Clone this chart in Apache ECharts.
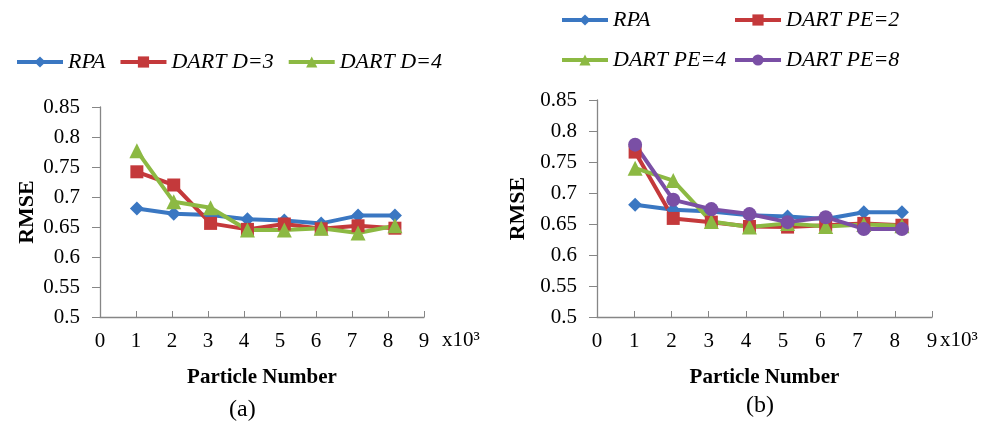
<!DOCTYPE html>
<html>
<head>
<meta charset="utf-8">
<title>RMSE - Particle Number</title>
<script src="https://cdn.jsdelivr.net/npm/echarts@6/dist/echarts.min.js"></script>
<style>
  html, body { margin: 0; background: #fff; }
  #chart { width: 999px; height: 429px; }
</style>
</head>
<body>
<div id="chart"></div>
<script>
// particle number in thousands (1024, 2048, ... 8192)
var particleK = [1.024, 2.048, 3.072, 4.096, 5.12, 6.144, 7.168, 8.192];

// (a) depth
var rpaA  = [0.681, 0.672, 0.670, 0.663, 0.661, 0.656, 0.669, 0.669];
var dartD3 = [0.742, 0.720, 0.656, 0.646, 0.655, 0.647, 0.652, 0.648];
var dartD4 = [0.777, 0.692, 0.682, 0.645, 0.645, 0.648, 0.640, 0.652];

// (b) processing elements
var rpaB   = [0.681, 0.673, 0.670, 0.664, 0.662, 0.658, 0.669, 0.669];
var dartPE2 = [0.766, 0.659, 0.653, 0.646, 0.645, 0.648, 0.651, 0.648];
var dartPE4 = [0.740, 0.720, 0.654, 0.645, 0.651, 0.646, 0.649, 0.647];
var dartPE8 = [0.778, 0.689, 0.674, 0.666, 0.653, 0.661, 0.642, 0.642];

var xTickMin = 0, xTickMax = 9;
var yTickMin = 0.5, yTickMax = 0.85, yTickStep = 0.05;

var BLUE = '#3a77c2', RED = '#c4393b', GREEN = '#8cb943', PURPLE = '#7a4fa5';
var SERIF = '"Liberation Serif", "Times New Roman", serif';

function pairs(ys) {
  return ys.map(function (v, i) { return [particleK[i], v]; });
}

function line(name, ys, color, symbol, size, idx) {
  return {
    name: name, type: 'line', xAxisIndex: idx, yAxisIndex: idx,
    data: pairs(ys), symbol: symbol, symbolSize: size,
    lineStyle: { color: color, width: 4 },
    itemStyle: { color: color },
    animation: false
  };
}

function xAx(idx) {
  return {
    type: 'value', gridIndex: idx, min: xTickMin, max: xTickMax, interval: 1,
    axisLine: { lineStyle: { color: '#868686', width: 1.3 } },
    axisTick: { inside: true, length: 6, lineStyle: { color: '#868686' } },
    splitLine: { show: false },
    axisLabel: { fontFamily: SERIF, fontSize: 21, color: '#000', margin: 14 },
    name: 'Particle Number', nameLocation: 'middle', nameGap: 50,
    nameTextStyle: { fontFamily: SERIF, fontSize: 21, fontWeight: 'bold', color: '#000' }
  };
}

function yAx(idx, gap) {
  return {
    type: 'value', gridIndex: idx, min: yTickMin, max: yTickMax, interval: yTickStep,
    axisLine: { show: true, lineStyle: { color: '#868686', width: 1.3 } },
    axisTick: { show: true, length: 8, lineStyle: { color: '#868686' } },
    splitLine: { show: false },
    axisLabel: { fontFamily: SERIF, fontSize: 21, color: '#000', margin: 20 },
    name: 'RMSE', nameLocation: 'middle', nameGap: gap, nameRotate: 90,
    nameTextStyle: { fontFamily: SERIF, fontSize: 22, fontWeight: 'bold', color: '#000' }
  };
}

function leg(left, top, names) {
  return {
    left: left, top: top, padding: 0, itemWidth: 46, itemHeight: 14, itemGap: 13,
    data: names, selectedMode: false,
    lineStyle: { width: 4 },
    textStyle: { fontFamily: SERIF, fontStyle: 'italic', fontSize: 22, color: '#000' }
  };
}

var chart = echarts.init(document.getElementById('chart'));
chart.setOption({
  backgroundColor: '#fff',
  animation: false,
  grid: [
    { left: 100, top: 107, width: 324, height: 210 },
    { left: 597, top: 100, width: 335, height: 217 }
  ],
  xAxis: [xAx(0), xAx(1)],
  yAxis: [yAx(0, 62), yAx(1, 68)],
  legend: [
    leg(15, 51, ['RPA', 'DART D=3', 'DART D=4']),
    leg(560, 9, ['RPA']),
    leg(733, 9, ['DART PE=2']),
    leg(560, 49, ['DART PE=4']),
    leg(733, 49, ['DART PE=8'])
  ],
  series: [
    line('RPA', rpaA, BLUE, 'diamond', 14, 0),
    line('DART D=3', dartD3, RED, 'rect', 13, 0),
    line('DART D=4', dartD4, GREEN, 'triangle', 15, 0),
    line('RPA', rpaB, BLUE, 'diamond', 14, 1),
    line('DART PE=2', dartPE2, RED, 'rect', 13, 1),
    line('DART PE=4', dartPE4, GREEN, 'triangle', 15, 1),
    line('DART PE=8', dartPE8, PURPLE, 'circle', 14, 1)
  ],
  graphic: [
    { type: 'text', left: 442, top: 330, style: { text: 'x10³', fontFamily: SERIF, fontSize: 21, fill: '#000' } },
    { type: 'text', left: 940, top: 330, style: { text: 'x10³', fontFamily: SERIF, fontSize: 21, fill: '#000' } },
    { type: 'text', left: 229, top: 398, style: { text: '(a)', fontFamily: SERIF, fontSize: 24, fill: '#000' } },
    { type: 'text', left: 746, top: 394, style: { text: '(b)', fontFamily: SERIF, fontSize: 24, fill: '#000' } }
  ]
});
</script>
</body>
</html>
